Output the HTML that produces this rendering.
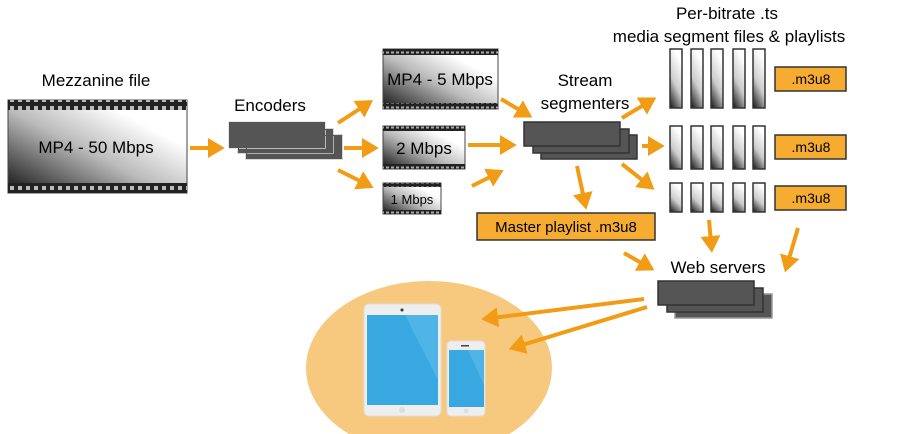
<!DOCTYPE html>
<html><head><style>
html,body{margin:0;padding:0;background:#fff;}
svg{display:block;}
text{font-family:"Liberation Sans",sans-serif;fill:#000;}
</style></head><body>
<svg width="921" height="434" viewBox="0 0 921 434" xmlns="http://www.w3.org/2000/svg">
<defs>
<linearGradient id="fg" x1="0" y1="1" x2="1" y2="0">
<stop offset="0" stop-color="#111"/><stop offset="0.45" stop-color="#bbb"/><stop offset="0.75" stop-color="#fff"/><stop offset="1" stop-color="#fff"/>
</linearGradient>
<linearGradient id="bg" x1="0" y1="1" x2="0.4" y2="0">
<stop offset="0" stop-color="#111"/><stop offset="0.5" stop-color="#ccc"/><stop offset="1" stop-color="#fff"/>
</linearGradient>
<pattern id="sp" width="8" height="8" patternUnits="userSpaceOnUse">
<rect width="8" height="8" fill="#222"/><rect x="2" y="2" width="4" height="4" fill="#bbb"/>
</pattern>
<pattern id="sp2" width="5" height="5" patternUnits="userSpaceOnUse">
<rect width="5" height="5" fill="#222"/><rect x="1" y="1.5" width="3" height="2" fill="#aaa"/>
</pattern>
<marker id="ah" markerWidth="5" markerHeight="5" refX="1.5" refY="2.5" orient="auto" markerUnits="strokeWidth">
<path d="M0,0 L4.2,2.5 L0,5 z" fill="#f29b14"/>
</marker>
</defs>

<!-- Mezzanine -->
<text x="96" y="86" font-size="17" text-anchor="middle">Mezzanine file</text>
<rect x="8" y="100" width="179" height="93" fill="url(#fg)" stroke="#444"/>
<rect x="8" y="100" width="179" height="10" fill="url(#sp)"/>
<rect x="8" y="183" width="179" height="10" fill="url(#sp)"/>
<text x="96" y="153" font-size="17" text-anchor="middle">MP4 - 50 Mbps</text>

<!-- Encoders -->
<text x="270" y="111" font-size="17" text-anchor="middle">Encoders</text>
<g fill="#555" stroke="#222" stroke-width="1.5">
<rect x="246" y="135" width="96" height="24" stroke="#ccc"/>
<rect x="238" y="129" width="95" height="24" stroke="#ccc"/>
<rect x="229" y="122" width="96" height="26" stroke="#ddd"/>
</g>
<g fill="none" stroke="#555"><rect x="246.5" y="135.5" width="95" height="23"/><rect x="238.5" y="129.5" width="94" height="23"/><rect x="229.5" y="122.5" width="95" height="25"/></g>

<!-- Films -->
<rect x="383" y="49" width="115" height="60" fill="url(#fg)" stroke="#444"/>
<rect x="383" y="49" width="115" height="6" fill="url(#sp2)"/>
<rect x="383" y="103" width="115" height="6" fill="url(#sp2)"/>
<text x="440" y="85" font-size="17" text-anchor="middle">MP4 - 5 Mbps</text>

<rect x="383" y="126" width="82" height="43" fill="url(#fg)" stroke="#444"/>
<rect x="383" y="126" width="82" height="5" fill="url(#sp2)"/>
<rect x="383" y="164" width="82" height="5" fill="url(#sp2)"/>
<text x="424" y="154" font-size="17" text-anchor="middle">2 Mbps</text>

<rect x="383" y="183" width="58" height="31" fill="url(#fg)" stroke="#444"/>
<rect x="383" y="183" width="58" height="4" fill="url(#sp2)"/>
<rect x="383" y="210" width="58" height="4" fill="url(#sp2)"/>
<text x="412" y="204" font-size="13" text-anchor="middle">1 Mbps</text>

<!-- Segmenters -->
<text x="585" y="86" font-size="17" text-anchor="middle">Stream</text>
<text x="585" y="109" font-size="17" text-anchor="middle">segmenters</text>
<g fill="#555" stroke="#333" stroke-width="1.5">
<rect x="541" y="135" width="96" height="24"/>
<rect x="533" y="129" width="96" height="24"/>
<rect x="524" y="122" width="96" height="24"/>
</g>

<!-- Title -->
<text x="727" y="19" font-size="17" text-anchor="middle">Per-bitrate .ts</text>
<text x="729" y="42" font-size="17" text-anchor="middle">media segment files &amp; playlists</text>

<!-- Bars -->
<g fill="url(#bg)" stroke="#333" stroke-width="1.5">
<rect x="670" y="49" width="12" height="59"/><rect x="691" y="49" width="12" height="59"/><rect x="711" y="49" width="12" height="59"/><rect x="733" y="49" width="12" height="59"/><rect x="753" y="49" width="12" height="59"/>
<rect x="670" y="126" width="12" height="43"/><rect x="691" y="126" width="12" height="43"/><rect x="711" y="126" width="12" height="43"/><rect x="733" y="126" width="12" height="43"/><rect x="753" y="126" width="12" height="43"/>
<rect x="670" y="183" width="12" height="29"/><rect x="691" y="183" width="12" height="29"/><rect x="711" y="183" width="12" height="29"/><rect x="733" y="183" width="12" height="29"/><rect x="753" y="183" width="12" height="29"/>
</g>
<g fill="#f6ab31" stroke="#333" stroke-width="1.5">
<rect x="775" y="67" width="71" height="24"/><rect x="775" y="135" width="71" height="24"/><rect x="775" y="186" width="71" height="24"/>
<rect x="477" y="213" width="178" height="27"/>
</g>
<g font-size="14" text-anchor="middle">
<text x="811" y="84">.m3u8</text><text x="811" y="152">.m3u8</text><text x="811" y="203">.m3u8</text>
</g>
<text x="566" y="232" font-size="15" text-anchor="middle">Master playlist .m3u8</text>

<!-- Web servers -->
<text x="718" y="273" font-size="17" text-anchor="middle">Web servers</text>
<g fill="#555" stroke="#333" stroke-width="1.5">
<rect x="675" y="294" width="97" height="24" stroke="#999"/>
<rect x="667" y="288" width="96" height="24"/>
<rect x="658" y="281" width="96" height="24"/>
</g>

<!-- Devices -->
<ellipse cx="429" cy="368" rx="123" ry="87" fill="#f7c97f"/>
<rect x="364" y="304" width="77" height="112" rx="5" fill="#eee" stroke="#ddd"/>
<rect x="367" y="315" width="71" height="90" fill="#3aa8e0"/>
<polygon points="405,315 438,315 438,380" fill="#4fb4e6"/>
<circle cx="402" cy="310" r="1.5" fill="#333"/>
<circle cx="402" cy="410" r="3" fill="#ddd"/>
<rect x="447" y="341" width="38" height="75" rx="4" fill="#eee" stroke="#ddd"/>
<rect x="449" y="350" width="35" height="57" fill="#3aa8e0"/>
<polygon points="468,350 484,350 484,385" fill="#4fb4e6"/>
<rect x="461" y="345" width="8" height="1.5" fill="#444"/>
<circle cx="466" cy="411" r="2.5" fill="#ddd"/>

<!-- Arrows -->
<g stroke="#f29b14" stroke-width="4" fill="none" marker-end="url(#ah)">
<line x1="190" y1="148" x2="214" y2="148"/>
<line x1="338" y1="123" x2="364" y2="106"/>
<line x1="344" y1="148" x2="368" y2="148"/>
<line x1="338" y1="170" x2="364" y2="183"/>
<line x1="501" y1="99" x2="523" y2="112"/>
<line x1="468" y1="145" x2="506" y2="145"/>
<line x1="472" y1="186" x2="494" y2="175"/>
<line x1="622" y1="118" x2="647" y2="103"/>
<line x1="642" y1="146" x2="654" y2="146"/>
<line x1="622" y1="164" x2="646" y2="183"/>
<line x1="577" y1="166" x2="584" y2="199"/>
<line x1="709" y1="220" x2="711" y2="242"/>
<line x1="798" y1="228" x2="788" y2="262"/>
<line x1="624" y1="253" x2="645" y2="265"/>
<line x1="644" y1="299" x2="492" y2="318"/>
<line x1="647" y1="307" x2="519" y2="346"/>
</g>
</svg>
</body></html>
